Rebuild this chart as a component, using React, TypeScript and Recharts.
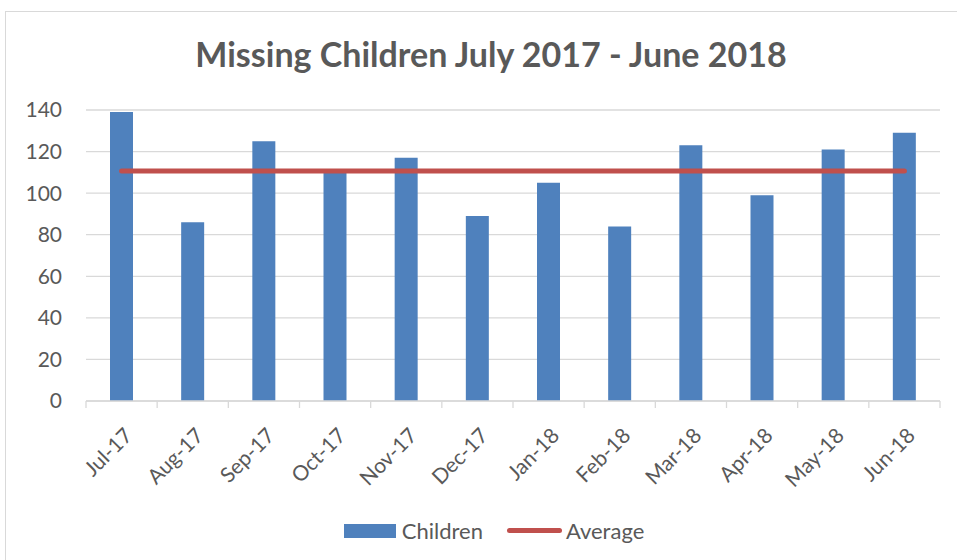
import {
  ComposedChart,
  Bar,
  Line,
  XAxis,
  YAxis,
  CartesianGrid,
  Legend,
} from "recharts";

const months = [
  "Jul-17", "Aug-17", "Sep-17", "Oct-17", "Nov-17", "Dec-17",
  "Jan-18", "Feb-18", "Mar-18", "Apr-18", "May-18", "Jun-18",
];
const children = [139, 86, 125, 110, 117, 89, 105, 84, 123, 99, 121, 129];
const average = [
  110.6, 110.6, 110.6, 110.6, 110.6, 110.6,
  110.6, 110.6, 110.6, 110.6, 110.6, 110.6,
];
const yTicks = [0, 20, 40, 60, 80, 100, 120, 140];

const data = months.map((m, i) => ({
  month: m,
  Children: children[i],
  Average: average[i],
}));

const FONT = "Lato, 'Open Sans', sans-serif";
const TEXT = "#595959";
const GRID = "#D9D9D9";

// category label plus the Excel-style tick marks on the band edges
function MonthTick({ x, y, payload, index }: any) {
  const half = payload.offset || 0;
  const last = index === months.length - 1;
  return (
    <g>
      <line x1={x - half} x2={x - half} y1={y} y2={y + 7} stroke={GRID} strokeWidth={1.3} />
      {last && (
        <line x1={x + half} x2={x + half} y1={y} y2={y + 7} stroke={GRID} strokeWidth={1.3} />
      )}
      <g transform={`translate(${x + 12},${y + 36})`}>
        <text
          x={0}
          y={0}
          textAnchor="end"
          transform="rotate(-45)"
          fill={TEXT}
          fontSize={21}
          fontFamily={FONT}
        >
          {payload.value}
        </text>
      </g>
    </g>
  );
}

function LegendContent() {
  return (
    <div
      style={{
        display: "flex",
        justifyContent: "center",
        alignItems: "center",
        fontFamily: FONT,
        fontSize: 22,
        color: TEXT,
        paddingLeft: 31,
      }}
    >
      <span style={{ display: "inline-block", width: 52, height: 14, background: "#4F81BD", marginRight: 6 }} />
      <span style={{ marginRight: 24 }}>Children</span>
      <span style={{ display: "inline-block", width: 55, height: 5, borderRadius: 3, background: "#C0504D", marginRight: 4 }} />
      <span>Average</span>
    </div>
  );
}

export default function App() {
  return (
    <div
      style={{
        position: "absolute",
        left: 0,
        top: 0,
        width: 957,
        height: 560,
        overflow: "hidden",
        background: "#fff",
      }}
    >
      <div
        style={{
          position: "absolute",
          left: 5,
          top: 11,
          width: 970,
          height: 580,
          border: `1px solid ${GRID}`,
        }}
      />
      <div
        style={{
          position: "absolute",
          left: 0,
          top: 33,
          width: 982,
          textAlign: "center",
          fontFamily: FONT,
          fontWeight: "bold",
          fontSize: 34,
          color: TEXT,
        }}
      >
        Missing Children July 2017 - June 2018
      </div>
      <div style={{ position: "absolute", left: 0, top: 0 }}>
        <ComposedChart
          width={957}
          height={560}
          data={data}
          margin={{ top: 110, right: 17, bottom: 0, left: 0 }}
        >
          <CartesianGrid vertical={false} stroke={GRID} strokeWidth={1.3} />
          <XAxis
            dataKey="month"
            tick={<MonthTick />}
            tickLine={false}
            axisLine={{ stroke: GRID, strokeWidth: 1.3 }}
            tickSize={0}
            tickMargin={0}
            interval={0}
            height={1}
          />
          <YAxis
            domain={[0, 140]}
            ticks={yTicks}
            width={86}
            axisLine={false}
            tickLine={false}
            tickSize={0}
            tickMargin={24}
            tick={{ fill: TEXT, fontSize: 21, fontFamily: FONT }}
          />
          <Legend
            verticalAlign="bottom"
            height={158}
            content={<LegendContent />}
            wrapperStyle={{ top: 517, left: 0, width: 957 }}
          />
          <Bar dataKey="Children" fill="#4F81BD" barSize={23} isAnimationActive={false} />
          <Line
            dataKey="Average"
            stroke="#C0504D"
            strokeWidth={5}
            strokeLinecap="round"
            dot={false}
            activeDot={false}
            isAnimationActive={false}
          />
        </ComposedChart>
      </div>
    </div>
  );
}
